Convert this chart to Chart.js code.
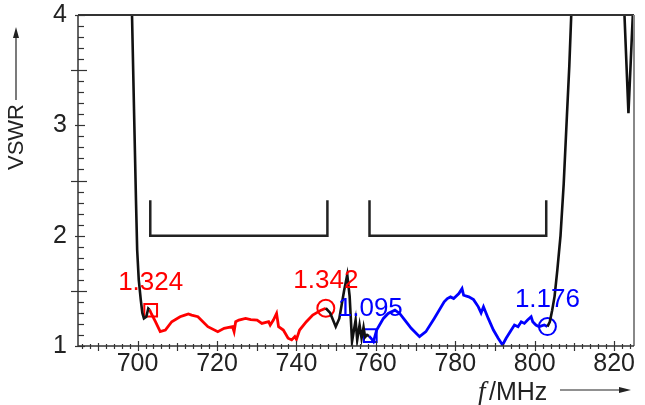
<!DOCTYPE html>
<html>
<head>
<meta charset="utf-8">
<script src="https://cdn.jsdelivr.net/npm/chart.js@4/dist/chart.umd.min.js"></script>
<style>
  html, body { margin: 0; padding: 0; background: #fff; }
  #wrap { width: 645px; height: 405px; }
</style>
</head>
<body>
<div id="wrap"><canvas id="vswr"></canvas></div>
<script>
const blackLeftF = [698.3, 698.6, 699.1, 699.6, 699.9, 700.3, 700.8, 701.2, 701.6, 702.2, 702.7, 703.0];
const blackLeftV = [4.5, 4.0, 3.15, 2.32, 1.87, 1.6, 1.42, 1.30, 1.25, 1.265, 1.34, 1.33];

const redF = [703.0, 703.5, 704.5, 705.7, 707.0, 708.6, 710.7, 711.9, 712.8, 713.6, 715.2, 717.7, 720.2, 721.8, 723.9, 724.3, 724.7, 725.5, 727.2, 728.5, 730.1, 731.3, 733.0, 733.4, 734.2, 735.0, 735.5, 736.7, 737.9, 738.8, 739.6, 740.0, 740.8, 742.5, 744.1, 746.2, 747.4];
const redV = [1.33, 1.29, 1.22, 1.13, 1.145, 1.22, 1.265, 1.28, 1.29, 1.28, 1.265, 1.175, 1.13, 1.16, 1.175, 1.13, 1.22, 1.235, 1.25, 1.24, 1.235, 1.205, 1.22, 1.19, 1.235, 1.295, 1.175, 1.145, 1.07, 1.055, 1.085, 1.06, 1.145, 1.22, 1.28, 1.325, 1.342];

const blackMidF = [747.4, 748.5, 749.9, 750.8, 752.0, 752.8, 753.4, 754.0, 754.9, 755.3, 755.9, 756.4, 756.9, 757.3, 757.8, 758.3];
const blackMidV = [1.342, 1.30, 1.175, 1.25, 1.5, 1.645, 1.45, 1.04, 1.235, 1.055, 1.19, 1.07, 1.17, 1.08, 1.10, 1.09];

const blueF = [758.3, 758.8, 759.4, 760.2, 761.9, 763.1, 764.8, 766.0, 767.3, 768.9, 771.0, 772.6, 774.7, 777.2, 778.0, 778.8, 779.6, 780.9, 781.7, 782.1, 783.4, 784.6, 785.8, 786.5, 787.1, 788.3, 789.6, 790.8, 791.9, 792.8, 794.1, 794.9, 795.8, 796.6, 797.4, 798.2, 799.1, 799.5, 800.3, 801.1, 802.4, 803.2];
const blueV = [1.09, 1.07, 1.04, 1.145, 1.25, 1.295, 1.325, 1.295, 1.235, 1.16, 1.085, 1.13, 1.25, 1.40, 1.43, 1.445, 1.43, 1.475, 1.52, 1.46, 1.445, 1.42, 1.355, 1.30, 1.355, 1.25, 1.145, 1.07, 1.01, 1.07, 1.145, 1.19, 1.175, 1.22, 1.205, 1.235, 1.265, 1.22, 1.19, 1.175, 1.19, 1.176];

const blackRightF = [803.2, 803.8, 804.4, 805.0, 805.7, 806.5, 807.3, 808.1, 808.7, 809.2, 809.5];
const blackRightV = [1.176, 1.22, 1.325, 1.45, 1.69, 2.0, 2.47, 3.08, 3.53, 4.0, 4.4];

const blackEdgeF = [822.3, 822.6, 823.6, 824.7, 825.0];
const blackEdgeV = [4.4, 4.0, 3.11, 4.0, 4.3];

// Frequenzbänder (Klammern)
const bandLow = [703.2, 747.8];
const bandHigh = [758.4, 802.9];
const bracketV = [2.0, 2.32];

// Markierungen
const markerF = [703.3, 747.4, 758.6, 803.2];
const markerV = [1.324, 1.342, 1.095, 1.176];
const markerText = ['1.324', '1.342', '1.095', '1.176'];
const markerShape = ['rect', 'circle', 'rect', 'circle'];
const markerColor = ['#ff0000', '#ff0000', '#0000ff', '#0000ff'];

const xTickLabels = [700, 720, 740, 760, 780, 800, 820];
const yTickLabels = [1, 2, 3, 4];

function pts(fs, vs) {
  return fs.map((f, i) => ({ x: f, y: vs[i] }));
}

function bracket(band) {
  return [
    { x: band[0], y: bracketV[1] },
    { x: band[0], y: bracketV[0] },
    { x: band[1], y: bracketV[0] },
    { x: band[1], y: bracketV[1] }
  ];
}

function lineSet(data, color, width) {
  return {
    data: data,
    showLine: true,
    borderColor: color,
    borderWidth: width,
    pointRadius: 0,
    tension: 0,
    fill: false
  };
}

function noPad(s) {
  s.paddingTop = 0;
  s.paddingBottom = 0;
  s.paddingLeft = 0;
  s.paddingRight = 0;
}

// Rahmen, Teilstriche, Beschriftungen
const decor = {
  id: 'decor',
  afterDatasetsDraw(chart) {
    const ctx = chart.ctx;
    const xs = chart.scales.x;
    const ys = chart.scales.y;
    const a = chart.chartArea;
    ctx.save();

    // Rahmen
    ctx.strokeStyle = '#333';
    ctx.lineWidth = 2;
    ctx.beginPath();
    ctx.moveTo(a.left, a.top);
    ctx.lineTo(a.right, a.top);
    ctx.stroke();
    ctx.strokeStyle = '#888';
    ctx.beginPath();
    ctx.moveTo(a.right, a.top);
    ctx.lineTo(a.right, a.bottom);
    ctx.stroke();
    ctx.strokeStyle = '#333';
    ctx.lineWidth = 1.5;
    ctx.beginPath();
    ctx.moveTo(a.left, a.top);
    ctx.lineTo(a.left, a.bottom);
    ctx.lineTo(a.right, a.bottom);
    ctx.stroke();

    // y Teilstriche
    ctx.lineWidth = 1.2;
    ctx.strokeStyle = '#333';
    for (let k = 10; k <= 40; k++) {
      const py = Math.round(ys.getPixelForValue(k / 10)) + 0.5;
      let l0 = 0, l1 = 6;
      if (k % 10 === 0) { l0 = -3; l1 = 7; }
      else if (k % 5 === 0) { l0 = -7; l1 = 9; }
      ctx.beginPath();
      ctx.moveTo(a.left + l0, py);
      ctx.lineTo(a.left + l1, py);
      ctx.stroke();
    }
    // x Teilstriche
    for (let f = 686; f <= 824; f += 2) {
      const px = Math.round(xs.getPixelForValue(f)) + 0.5;
      let u = 2, d = 3;
      if (f % 20 === 0) { u = 5; d = 5; }
      else if (f % 10 === 0) { u = 3; d = 5; }
      ctx.beginPath();
      ctx.moveTo(px, a.bottom - u);
      ctx.lineTo(px, a.bottom + d);
      ctx.stroke();
    }

    // Werte an den Markierungen
    ctx.font = '26px "Liberation Sans", Arial, sans-serif';
    ctx.textAlign = 'center';
    ctx.textBaseline = 'middle';
    markerText.forEach((t, i) => {
      ctx.fillStyle = markerColor[i];
      const px = xs.getPixelForValue(markerF[i]);
      const py = ys.getPixelForValue(markerV[i]);
      ctx.fillText(t, px, py - 27);
    });

    // Achsentitel y
    ctx.fillStyle = '#222';
    ctx.strokeStyle = '#222';
    ctx.save();
    ctx.translate(23, 137);
    ctx.rotate(-Math.PI / 2);
    ctx.font = '22px "Liberation Sans", Arial, sans-serif';
    ctx.textAlign = 'center';
    ctx.textBaseline = 'alphabetic';
    ctx.fillText('VSWR', 0, 0);
    ctx.restore();
    ctx.lineWidth = 1.2;
    ctx.beginPath();
    ctx.moveTo(16, 100);
    ctx.lineTo(16, 34);
    ctx.stroke();
    ctx.beginPath();
    ctx.moveTo(16, 27);
    ctx.lineTo(13, 38);
    ctx.lineTo(19, 38);
    ctx.closePath();
    ctx.fill();

    // Achsentitel x
    ctx.textAlign = 'left';
    ctx.textBaseline = 'alphabetic';
    ctx.font = 'italic 27px "Liberation Serif", "Times New Roman", serif';
    ctx.fillText('f', 478, 400);
    ctx.font = '25px "Liberation Sans", Arial, sans-serif';
    ctx.fillText('/MHz', 489, 400);
    ctx.beginPath();
    ctx.moveTo(560, 390);
    ctx.lineTo(622, 390);
    ctx.stroke();
    ctx.beginPath();
    ctx.moveTo(631, 390);
    ctx.lineTo(619, 387);
    ctx.lineTo(619, 393);
    ctx.closePath();
    ctx.fill();

    ctx.restore();
  }
};

const markerSets = markerF.map((f, i) => ({
  data: [{ x: f, y: markerV[i] }],
  showLine: false,
  pointStyle: markerShape[i],
  pointRadius: markerShape[i] === 'rect' ? 9 : 8.5,
  pointBorderColor: markerColor[i],
  pointBackgroundColor: 'rgba(0,0,0,0)',
  pointBorderWidth: 2,
  pointHoverRadius: 0
}));

new Chart(document.getElementById('vswr'), {
  type: 'scatter',
  data: {
    datasets: [
      lineSet(bracket(bandLow), '#222', 2.5),
      lineSet(bracket(bandHigh), '#222', 2.5),
      lineSet(pts(blackLeftF, blackLeftV), '#111', 2.6),
      lineSet(pts(blackMidF, blackMidV), '#111', 2.6),
      lineSet(pts(blackRightF, blackRightV), '#111', 2.6),
      lineSet(pts(blackEdgeF, blackEdgeV), '#111', 2.6),
      lineSet(pts(redF, redV), '#ff0000', 2.8),
      lineSet(pts(blueF, blueV), '#0000ff', 2.8),
      ...markerSets
    ]
  },
  options: {
    responsive: true,
    maintainAspectRatio: false,
    animation: false,
    layout: { padding: { top: 15, right: 2, left: 0, bottom: 0 } },
    plugins: {
      legend: { display: false },
      tooltip: { enabled: false }
    },
    scales: {
      x: {
        type: 'linear',
        min: 685,
        max: 825,
        afterFit: s => { s.height = 59; noPad(s); },
        afterBuildTicks: s => { s.ticks = xTickLabels.map(v => ({ value: v })); },
        grid: { display: false, drawTicks: false },
        border: { display: false },
        ticks: {
          padding: 3,
          color: '#222',
          font: { family: '"Liberation Sans", Arial, sans-serif', size: 25 }
        }
      },
      y: {
        type: 'linear',
        min: 1,
        max: 4,
        afterFit: s => { s.width = 78; noPad(s); },
        afterBuildTicks: s => { s.ticks = yTickLabels.map(v => ({ value: v })); },
        grid: { display: false, drawTicks: false },
        border: { display: false },
        ticks: {
          padding: 11,
          color: '#222',
          font: { family: '"Liberation Sans", Arial, sans-serif', size: 25 }
        }
      }
    }
  },
  plugins: [decor]
});
</script>
</body>
</html>
